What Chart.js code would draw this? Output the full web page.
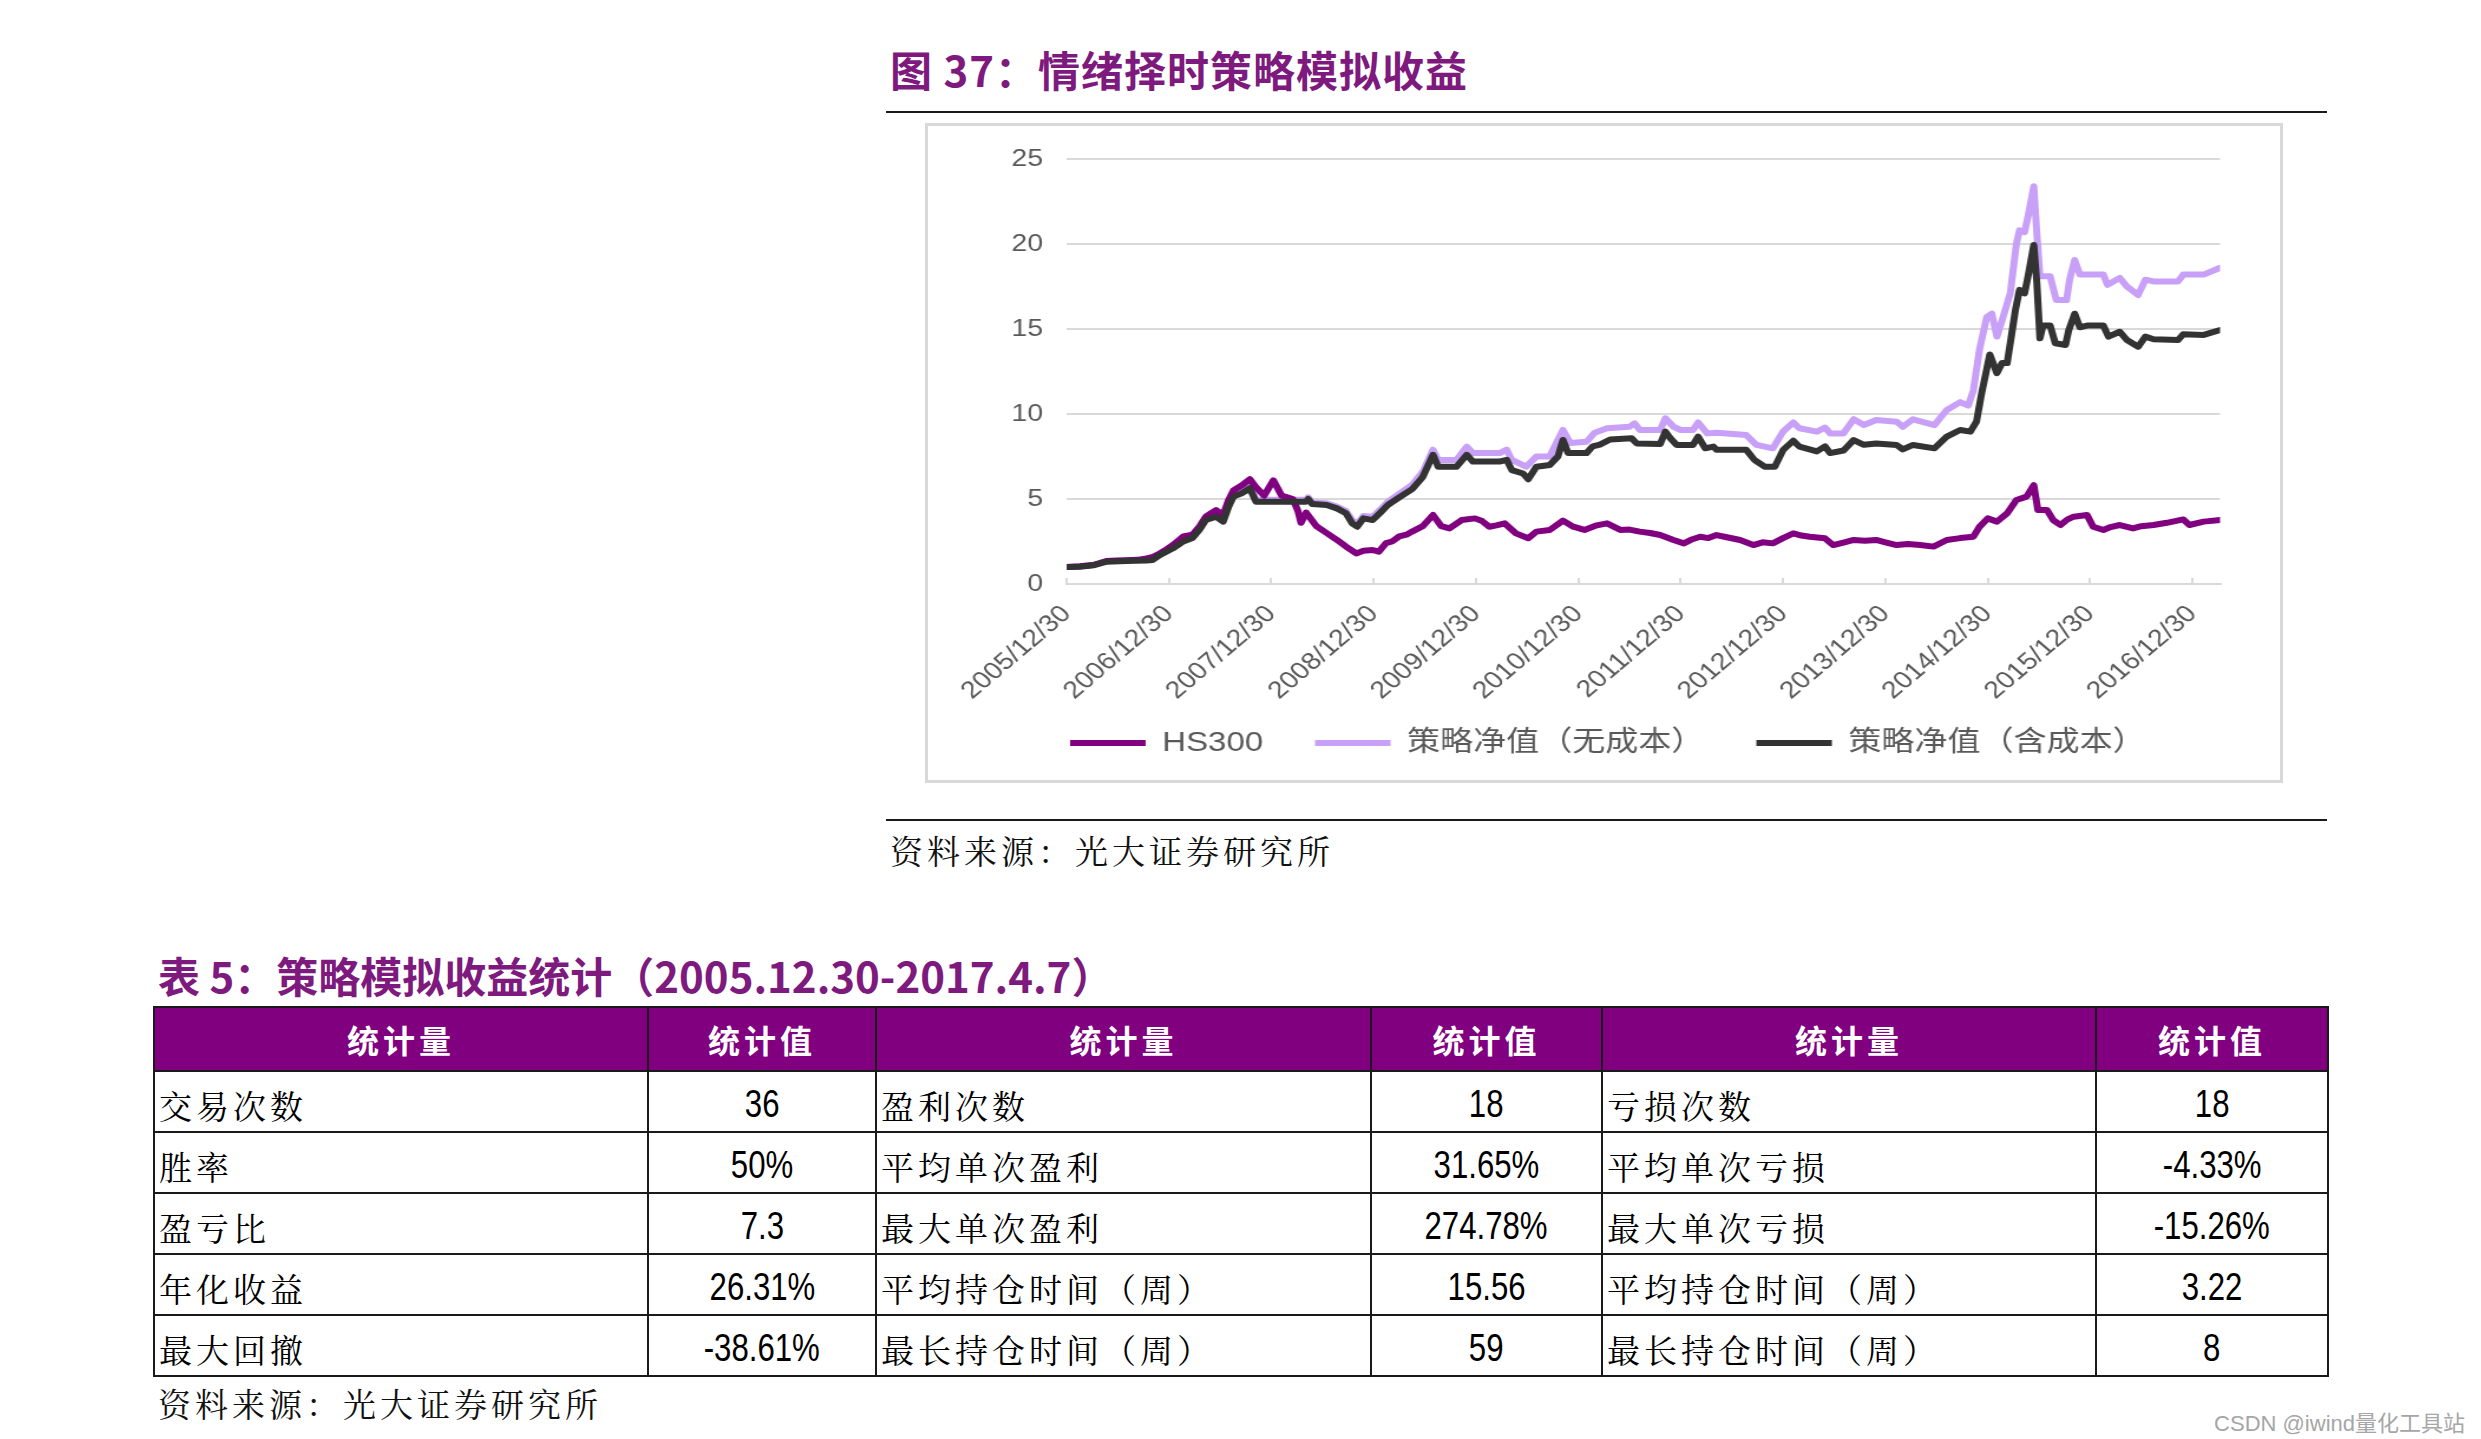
<!DOCTYPE html>
<html><head><meta charset="utf-8">
<script src="https://cdn.jsdelivr.net/npm/chart.js@4.4.0/dist/chart.umd.min.js"></script>
<style>
html,body{margin:0;padding:0;background:#fff;}
body{width:2481px;height:1439px;position:relative;overflow:hidden;font-family:"Noto Sans CJK SC",sans-serif;}
.abs{position:absolute;}
.ttl{color:#7E1A7E;font-weight:700;font-size:42px;line-height:42px;white-space:nowrap;letter-spacing:1px;}
.rule{height:2px;background:#1a1a1a;left:886px;width:1441px;}
.src{font-size:33px;line-height:33px;letter-spacing:4px;color:#111;white-space:nowrap;font-family:"Noto Serif CJK SC","Noto Sans CJK SC",serif;}
#box{left:925px;top:123px;width:1358px;height:660px;border:3px solid #D9D9D9;box-sizing:border-box;}
#wrap{left:925px;top:123px;width:1151px;height:660px;transform:scaleX(1.18);transform-origin:0 0;}
#tbl{left:153px;top:1006px;width:2174px;border-collapse:collapse;table-layout:fixed;}
#tbl td,#tbl th{border:2px solid #1a1a1a;padding:0;overflow:hidden;white-space:nowrap;}
#tbl th{background:#800080;color:#fff;font-size:32px;letter-spacing:4px;font-weight:700;}
#tbl tr.h{height:64px;}
#tbl tr.r{height:61px;}
#tbl td{padding-top:5px;}
#tbl td.lab{font-size:33px;letter-spacing:4px;text-align:left;padding-left:4px;color:#000;font-family:"Noto Serif CJK SC","Noto Sans CJK SC",serif;}
#tbl td.num{text-align:center;}
#tbl td.num span{display:inline-block;font-family:"Liberation Sans",Arial,sans-serif;font-size:38px;transform:scaleX(0.82);color:#000;}
#wm{right:16px;top:1405px;font-size:22px;color:#A6A6A6;font-family:"Liberation Sans","Noto Sans CJK SC",sans-serif;white-space:nowrap;}
</style></head>
<body>
<div class="abs ttl" style="left:890px;top:48px;">图 37：情绪择时策略模拟收益</div>
<div class="abs rule" style="top:111px;"></div>
<div class="abs" id="wrap"><canvas id="c" width="1151" height="660"></canvas></div>
<div class="abs" id="box"></div>
<div class="abs rule" style="top:819px;"></div>
<div class="abs src" style="left:890px;top:833px;">资料来源：光大证券研究所</div>
<div class="abs ttl" style="left:158px;top:954px;letter-spacing:0;">表 5：策略模拟收益统计（2005.12.30-2017.4.7）</div>
<table class="abs" id="tbl"></table>
<div class="abs src" style="left:158px;top:1386px;">资料来源：光大证券研究所</div>
<div class="abs" id="wm">CSDN @iwind量化工具站</div>
<script>
// ---- chart data ----
const xTickLabels = ['2005/12/30','2006/12/30','2007/12/30','2008/12/30','2009/12/30','2010/12/30',
  '2011/12/30','2012/12/30','2013/12/30','2014/12/30','2015/12/30','2016/12/30'];
const xMax = 11.27; // 2017/4/7, in years after 2005/12/30
const seriesNames = ['HS300','策略净值（无成本）','策略净值（含成本）'];

const hs300T = [0,0.13,0.26,0.39,0.5,0.58,0.7,0.78,0.85,0.91,
  0.98,1.04,1.1,1.14,1.23,1.3,1.36,1.42,1.46,1.53,
  1.58,1.63,1.71,1.79,1.85,1.93,2.02,2.1,2.21,2.26,
  2.29,2.34,2.44,2.54,2.64,2.73,2.83,2.9,2.99,3.05,
  3.12,3.18,3.25,3.32,3.38,3.48,3.58,3.66,3.74,3.86,
  3.99,4.06,4.13,4.2,4.28,4.39,4.51,4.59,4.72,4.85,
  4.95,5.06,5.18,5.28,5.41,5.5,5.6,5.7,5.8,5.93,
  6.03,6.1,6.19,6.27,6.35,6.45,6.58,6.71,6.8,6.9,
  7.0,7.1,7.18,7.26,7.41,7.49,7.6,7.69,7.8,7.91,
  8.0,8.11,8.22,8.34,8.47,8.6,8.73,8.86,8.92,9.0,
  9.09,9.19,9.28,9.38,9.45,9.49,9.58,9.64,9.71,9.78,
  9.84,9.97,10.03,10.13,10.2,10.29,10.42,10.5,10.62,10.75,
  10.91,10.97,11.11,11.27];
const hs300V = [1.0,1.05,1.12,1.35,1.38,1.4,1.42,1.5,1.6,1.8,
  2.05,2.3,2.6,2.8,2.9,3.4,3.96,4.2,4.35,4.06,
  4.9,5.5,5.8,6.16,5.7,5.2,6.1,5.2,5.0,4.3,
  3.6,4.2,3.4,3.0,2.6,2.2,1.8,1.95,2.0,1.9,
  2.4,2.5,2.8,2.9,3.1,3.4,4.06,3.4,3.27,3.76,
  3.86,3.7,3.37,3.45,3.57,2.98,2.69,3.08,3.18,3.73,
  3.37,3.18,3.45,3.57,3.18,3.2,3.08,3.0,2.88,2.59,
  2.39,2.6,2.78,2.7,2.88,2.75,2.59,2.29,2.45,2.39,
  2.7,2.98,2.85,2.78,2.69,2.29,2.45,2.59,2.55,2.59,
  2.45,2.29,2.35,2.29,2.2,2.59,2.7,2.78,3.37,3.86,
  3.67,4.16,4.94,5.14,5.82,4.35,4.35,3.76,3.47,3.8,
  3.96,4.06,3.37,3.18,3.35,3.47,3.27,3.4,3.47,3.6,
  3.80,3.47,3.67,3.76];

const noCostT = [0,0.13,0.26,0.39,0.58,0.78,0.91,1.04,1.14,1.23,
  1.3,1.36,1.46,1.53,1.58,1.63,1.71,1.79,1.85,2.0,
  2.2,2.34,2.36,2.4,2.54,2.64,2.73,2.79,2.84,2.9,
  2.99,3.06,3.14,3.25,3.38,3.48,3.58,3.63,3.81,3.91,
  3.97,4.23,4.30,4.35,4.49,4.59,4.72,4.80,4.85,4.92,
  5.08,5.16,5.28,5.50,5.55,5.60,5.80,5.85,5.93,6.0,
  6.12,6.17,6.26,6.35,6.64,6.74,6.90,7.0,7.10,7.16,
  7.33,7.41,7.46,7.59,7.69,7.79,7.91,8.11,8.17,8.27,
  8.48,8.60,8.73,8.81,8.86,8.92,8.99,9.04,9.09,9.15,
  9.22,9.28,9.31,9.36,9.40,9.45,9.48,9.51,9.61,9.67,
  9.77,9.80,9.85,9.90,10.13,10.17,10.29,10.36,10.47,10.54,
  10.62,10.86,10.91,11.11,11.27];
const noCostV = [1.0,1.04,1.12,1.35,1.38,1.45,1.78,2.25,2.7,2.85,
  3.35,3.9,4.25,3.95,4.8,5.4,5.6,5.95,4.95,4.95,
  4.95,4.95,5.1,4.8,4.75,4.55,4.3,3.75,3.55,4.0,
  3.95,4.35,4.85,5.3,5.85,6.6,7.9,7.3,7.3,8.08,
  7.7,7.7,7.9,7.3,6.9,7.5,7.5,8.47,9.06,8.3,
  8.37,8.9,9.16,9.25,9.45,9.06,9.06,9.75,9.25,9.06,
  9.06,9.5,8.86,8.9,8.76,8.18,7.98,8.96,9.5,9.16,
  8.96,9.2,8.86,8.86,9.69,9.35,9.65,9.55,9.25,9.69,
  9.35,10.24,10.7,10.5,11.4,13.8,15.7,15.9,14.55,15.7,
  17.1,20.0,20.8,20.7,21.8,23.4,20.6,18.1,18.1,16.7,
  16.7,17.9,19.06,18.2,18.2,17.6,18.0,17.5,17.0,17.9,
  17.8,17.8,18.2,18.2,18.6];

const withCostT = [0,0.13,0.26,0.39,0.58,0.78,0.84,0.91,1.04,1.14,
  1.23,1.3,1.36,1.46,1.53,1.58,1.63,1.71,1.79,1.85,
  2.0,2.2,2.34,2.36,2.4,2.54,2.64,2.73,2.79,2.84,
  2.9,2.99,3.06,3.14,3.25,3.38,3.48,3.58,3.63,3.81,
  3.91,3.97,4.23,4.30,4.35,4.46,4.51,4.59,4.72,4.80,
  4.85,4.90,5.08,5.14,5.21,5.31,5.52,5.57,5.80,5.85,
  5.90,5.96,6.12,6.17,6.24,6.32,6.35,6.64,6.72,6.82,
  6.92,7.0,7.1,7.16,7.33,7.41,7.46,7.59,7.69,7.79,
  7.91,8.11,8.17,8.27,8.48,8.60,8.73,8.83,8.89,8.94,
  9.02,9.09,9.14,9.19,9.27,9.31,9.36,9.40,9.45,9.48,
  9.51,9.54,9.61,9.66,9.76,9.79,9.85,9.90,9.97,10.13,
  10.18,10.29,10.36,10.47,10.54,10.62,10.86,10.91,11.11,11.27];
const withCostV = [1.0,1.02,1.1,1.31,1.35,1.38,1.41,1.7,2.1,2.5,
  2.7,3.2,3.76,3.96,3.67,4.5,5.14,5.33,5.63,4.84,
  4.84,4.84,4.84,5.0,4.7,4.65,4.45,4.16,3.57,3.37,
  3.86,3.76,4.16,4.65,5.1,5.6,6.3,7.6,6.9,6.9,
  7.6,7.2,7.2,7.3,6.7,6.5,6.16,6.9,7.0,7.5,
  8.47,7.7,7.7,8.1,8.2,8.5,8.57,8.27,8.24,8.96,
  8.57,8.18,8.18,8.67,7.98,8.08,7.9,7.9,7.3,6.9,
  6.9,7.88,8.43,8.08,7.8,8.1,7.7,7.85,8.47,8.19,
  8.27,8.18,7.92,8.18,7.98,8.67,9.06,8.96,9.55,11.2,
  13.5,12.4,13.0,13.0,16.1,17.3,17.1,18.3,19.94,17.7,
  14.45,15.2,15.2,14.16,14.06,14.9,15.9,15.1,15.2,15.2,
  14.55,14.84,14.35,13.96,14.55,14.4,14.35,14.69,14.65,14.94];

// ---- table data ----
const tableHeader = ['统计量','统计值','统计量','统计值','统计量','统计值'];
const tableLabels1 = ['交易次数','胜率','盈亏比','年化收益','最大回撤'];
const tableValues1 = ['36','50%','7.3','26.31%','-38.61%'];
const tableLabels2 = ['盈利次数','平均单次盈利','最大单次盈利','平均持仓时间（周）','最长持仓时间（周）'];
const tableValues2 = ['18','31.65%','274.78%','15.56','59'];
const tableLabels3 = ['亏损次数','平均单次亏损','最大单次亏损','平均持仓时间（周）','最长持仓时间（周）'];
const tableValues3 = ['18','-4.33%','-15.26%','3.22','8'];
const colWidths = [494,228,495,231,494,232];

// ---- build table ----
(function(){
  const t = document.getElementById('tbl');
  let html = '<colgroup>' + colWidths.map(w=>'<col style="width:'+w+'px">').join('') + '</colgroup>';
  html += '<tr class="h">' + tableHeader.map(h=>'<th>'+h+'</th>').join('') + '</tr>';
  for (let i=0;i<tableLabels1.length;i++){
    html += '<tr class="r">' +
      '<td class="lab">'+tableLabels1[i]+'</td><td class="num"><span>'+tableValues1[i]+'</span></td>' +
      '<td class="lab">'+tableLabels2[i]+'</td><td class="num"><span>'+tableValues2[i]+'</span></td>' +
      '<td class="lab">'+tableLabels3[i]+'</td><td class="num"><span>'+tableValues3[i]+'</span></td></tr>';
  }
  t.innerHTML = html;
})();

// ---- chart ----
Chart.defaults.font.family = '"Liberation Sans","Noto Sans CJK SC",sans-serif';
const toPts = (ts, vs) => ts.map((t,i)=>({x:t, y:vs[i]}));
const colors = ['#800080','#C8A0F8','#333333'];

new Chart(document.getElementById('c'), {
  type: 'line',
  data: {
    datasets: [
      {label: seriesNames[0], data: toPts(hs300T, hs300V), borderColor: colors[0], backgroundColor: colors[0], order: 1},
      {label: seriesNames[1], data: toPts(noCostT, noCostV), borderColor: colors[1], backgroundColor: colors[1], order: 2},
      {label: seriesNames[2], data: toPts(withCostT, withCostV), borderColor: colors[2], backgroundColor: colors[2], order: 0}
    ]
  },
  options: {
    responsive: false,
    animation: false,
    devicePixelRatio: 1,
    layout: {padding: {left: 0, right: 53.5, top: 36, bottom: 16}},
    elements: {
      line: {borderWidth: 6, tension: 0, borderJoinStyle: 'round', borderCapStyle: 'round'},
      point: {radius: 0, hoverRadius: 0}
    },
    plugins: {
      tooltip: {enabled: false},
      legend: {
        position: 'bottom',
        labels: {
          boxWidth: 64, boxHeight: 6, padding: 44, color: '#595959',
          font: {size: 28},
          generateLabels(chart) {
            const items = Chart.defaults.plugins.legend.labels.generateLabels(chart);
            items.sort((a,b)=>a.datasetIndex-b.datasetIndex);
            items.forEach(it=>{ it.lineWidth = 0; });
            return items;
          }
        }
      }
    },
    scales: {
      x: {
        type: 'linear', min: 0, max: xMax,
        afterFit(s){ s.height = 101; s._computeLabelArea = function(){ return undefined; }; },
        ticks: {
          stepSize: 1, includeBounds: false, autoSkip: false,
          maxRotation: 45, minRotation: 45, padding: 22,
          color: '#595959', font: {size: 24},
          callback(v){ const i = Math.round(v); return (Math.abs(v-i) < 1e-6 && xTickLabels[i] !== undefined) ? xTickLabels[i] : ''; }
        },
        grid: {drawOnChartArea: false, drawTicks: true, tickLength: -6, color: '#D9D9D9', lineWidth: 2},
        border: {display: true, color: '#D9D9D9', width: 2}
      },
      y: {
        min: 0, max: 25,
        afterFit(s){ s.width = 120; },
        ticks: {stepSize: 5, padding: 20, color: '#595959', font: {size: 24}},
        grid: {color: '#D9D9D9', lineWidth: 2, drawTicks: false},
        border: {display: false}
      }
    }
  },
  plugins: [{
    id: 'legendShift',
    afterLayout(chart){ if (chart.legend) { chart.legend.left += 30; chart.legend.right += 30; } }
  }]
});
</script>
</body></html>
